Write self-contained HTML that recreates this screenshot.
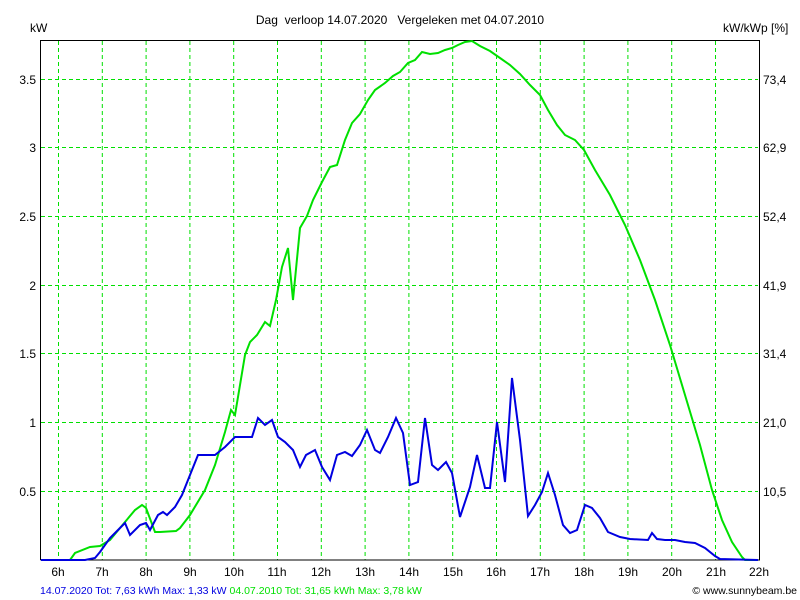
<!DOCTYPE html>
<html><head><meta charset="utf-8"><style>
body{margin:0;background:#fff;width:800px;height:600px;overflow:hidden}
svg{display:block;font-family:"Liberation Sans",sans-serif}
</style></head><body>
<svg width="800" height="600" viewBox="0 0 800 600">
<g stroke="#00e000" stroke-width="1" stroke-dasharray="4,3" fill="none">
<line x1="58.5" y1="41" x2="58.5" y2="560"/><line x1="102.3" y1="41" x2="102.3" y2="560"/><line x1="146.1" y1="41" x2="146.1" y2="560"/><line x1="189.9" y1="41" x2="189.9" y2="560"/><line x1="233.7" y1="41" x2="233.7" y2="560"/><line x1="277.5" y1="41" x2="277.5" y2="560"/><line x1="321.3" y1="41" x2="321.3" y2="560"/><line x1="365.1" y1="41" x2="365.1" y2="560"/><line x1="408.9" y1="41" x2="408.9" y2="560"/><line x1="452.7" y1="41" x2="452.7" y2="560"/><line x1="496.5" y1="41" x2="496.5" y2="560"/><line x1="540.3" y1="41" x2="540.3" y2="560"/><line x1="584.1" y1="41" x2="584.1" y2="560"/><line x1="627.9" y1="41" x2="627.9" y2="560"/><line x1="671.7" y1="41" x2="671.7" y2="560"/><line x1="715.5" y1="41" x2="715.5" y2="560"/>
<line x1="41" y1="491.5" x2="758" y2="491.5"/><line x1="41" y1="422.5" x2="758" y2="422.5"/><line x1="41" y1="353.5" x2="758" y2="353.5"/><line x1="41" y1="285.5" x2="758" y2="285.5"/><line x1="41" y1="216.5" x2="758" y2="216.5"/><line x1="41" y1="147.5" x2="758" y2="147.5"/><line x1="41" y1="79.5" x2="758" y2="79.5"/>
</g>
<path d="M40.5,560V40.5H759.5V560H40.5" fill="none" stroke="#000" stroke-width="1"/>
<polyline fill="none" stroke="#00e000" stroke-width="2" points="41,560 70,560 75,553 90,547 100,546 110,540 120,528 135,510 142,505 146,508 155,532 160,532 176,531 180,528 190,515 205,490 215,465 225,432 231,410 235,415 240,385 245,355 250,342 257,335 265,322 270,326 276,300 282,267 288,248 293,300 300,228 307,216 313,200 322,182 330,167 337,165 345,140 352,123 360,114 368,100 375,90 385,83 393,76 400,72 408,63 415,60 422,52 430,54 438,53 445,50 452,48 458,45 465,42 472,41 480,46 490,51 500,58 510,65 520,74 530,85 540,95 548,110 557,125 565,135 575,140 584,150 595,170 610,195 625,225 640,260 655,300 670,345 685,395 700,445 712,490 722,520 732,542 742,557 745,560 758,560"/>
<polyline fill="none" stroke="#0000e0" stroke-width="2" points="41,560 85,560 95,558 100,552 110,538 118,530 125,523 130,535 140,525 146,523 150,530 158,515 163,512 167,515 175,507 182,495 190,475 198,455 205,455 215,455 225,447 235,437 245,437 252,437 258,418 265,425 272,420 278,437 285,442 293,450 300,467 306,455 315,450 322,467 330,480 337,455 345,452 352,456 360,445 367,430 375,450 380,453 388,437 396,418 403,433 410,485 418,482 425,418 432,465 438,470 446,462 452,473 460,517 470,487 477,455 485,488 490,488 497,422 505,482 512,378 520,440 528,516 535,505 542,492 548,473 555,495 563,525 570,533 577,530 585,505 592,508 600,518 608,532 620,537 630,539 648,540 652,533 657,539 665,540 675,540 685,542 695,543 705,548 715,556 720,559 758,560"/>
<g font-size="12" fill="#000">
<text x="400" y="24" text-anchor="middle">Dag&#160; verloop 14.07.2020&#160;&#160; Vergeleken met 04.07.2010</text>
<text x="30" y="32">kW</text>
<text x="723" y="32">kW/kWp [%]</text>
<g text-anchor="end"><text x="36" y="84">3.5</text><text x="36" y="152">3</text><text x="36" y="221">2.5</text><text x="36" y="290">2</text><text x="36" y="358">1.5</text><text x="36" y="427">1</text><text x="36" y="496">0.5</text></g>
<g><text x="763" y="84">73,4</text><text x="763" y="152">62,9</text><text x="763" y="221">52,4</text><text x="763" y="290">41,9</text><text x="763" y="358">31,4</text><text x="763" y="427">21,0</text><text x="763" y="496">10,5</text></g>
<g text-anchor="middle"><text x="58" y="576">6h</text><text x="102" y="576">7h</text><text x="146" y="576">8h</text><text x="190" y="576">9h</text><text x="234" y="576">10h</text><text x="277" y="576">11h</text><text x="321" y="576">12h</text><text x="365" y="576">13h</text><text x="409" y="576">14h</text><text x="453" y="576">15h</text><text x="496" y="576">16h</text><text x="540" y="576">17h</text><text x="584" y="576">18h</text><text x="628" y="576">19h</text><text x="672" y="576">20h</text><text x="716" y="576">21h</text><text x="759" y="576">22h</text></g>
</g>
<text x="40" y="594" font-size="10.5" fill="#0000e0">14.07.2020 Tot: 7,63 kWh Max: 1,33 kW <tspan fill="#00e000">04.07.2010 Tot: 31,65 kWh Max: 3,78 kW</tspan></text>
<text x="797" y="594" font-size="10.5" fill="#000" text-anchor="end">© www.sunnybeam.be</text>
</svg>
</body></html>
